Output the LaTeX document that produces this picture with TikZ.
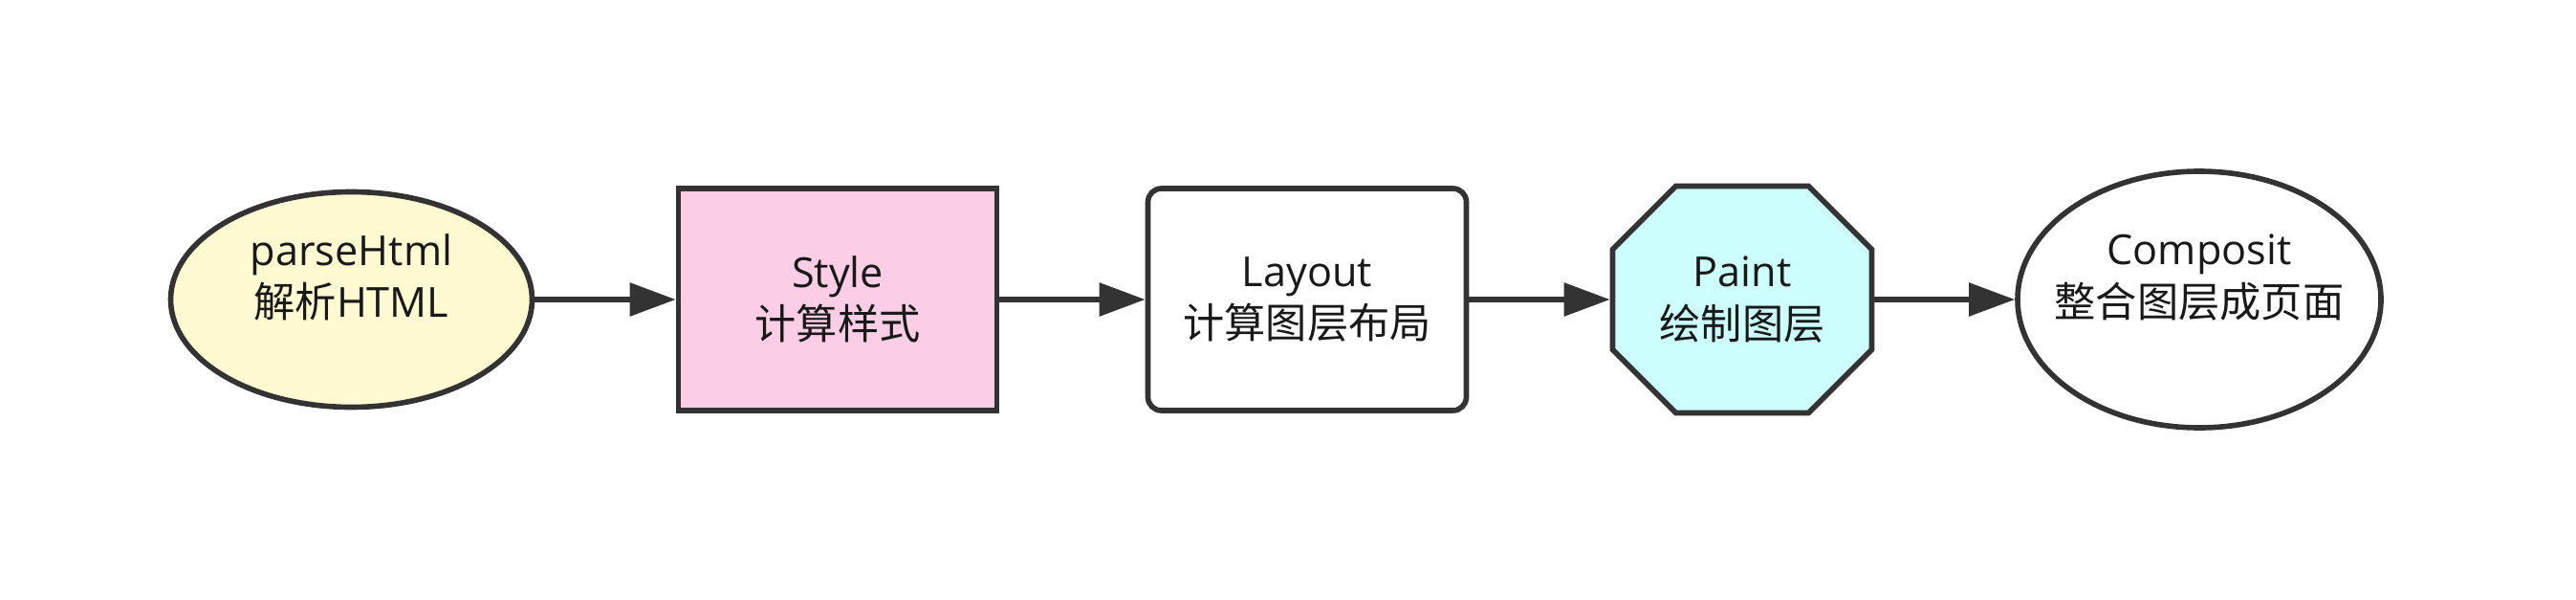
\documentclass[tikz,border=0pt]{standalone}
\usepackage{fontspec}
\setmainfont{Open Sans}
\newfontfamily\cjk{Noto Sans CJK SC}
\usepackage{xcolor}
\definecolor{flowline}{RGB}{51,51,51}
\definecolor{flowyellow}{RGB}{255,250,210}
\definecolor{flowpink}{RGB}{251,206,230}
\definecolor{flowcyan}{RGB}{206,255,255}
\usetikzlibrary{arrows.meta,positioning,shapes.geometric,calc,backgrounds}

\begin{document}
\begin{tikzpicture}[
    stage/.style={draw=flowline, line width=1.6pt, align=center, inner sep=0pt,
      font=\fontsize{12.3}{15.5}\selectfont, text=black!90},
    oval/.style={stage, ellipse, inner sep=-1cm, text depth=0.5cm},
    flow/.style={draw=flowline, line width=1.6pt, -{Triangle[length=0.48cm, width=0.34cm]}}
  ]
  \useasboundingbox (0,0) rectangle (26.94,6.26);

  % Render pipeline stages
  \node[oval, fill=flowyellow, minimum width=3.78cm, minimum height=2.25cm] (parse) at (3.675,3.13) {parseHtml\\{\cjk 解析}HTML};
  \node[stage, rectangle, fill=flowpink, minimum width=3.33cm, minimum height=2.32cm] (style) at (8.76,3.13) {Style\\{\cjk 计算样式}};
  \node[stage, rectangle, rounded corners=0.14cm, fill=white, minimum width=3.33cm, minimum height=2.32cm] (layout) at (13.67,3.13) {Layout\\{\cjk 计算图层布局}};
  \node[stage, rectangle, draw=none, minimum width=2.71cm, minimum height=2.37cm] (paint) at (18.22,3.13) {Paint\\{\cjk 绘制图层}};
  \node[oval, fill=white, minimum width=3.80cm, minimum height=2.68cm] (composit) at (23.00,3.13) {Composit\\{\cjk 整合图层成页面}};

  % octagon outline behind the Paint text
  \begin{scope}[on background layer]
    \draw[draw=flowline, fill=flowcyan, line width=1.6pt]
      ($(paint.north west)+(0.69,-0.028)$) -- ($(paint.north east)+(-0.69,-0.028)$)
      -- ($(paint.north east)+(-0.028,-0.69)$) -- ($(paint.south east)+(-0.028,0.69)$)
      -- ($(paint.south east)+(-0.69,0.028)$) -- ($(paint.south west)+(0.69,0.028)$)
      -- ($(paint.south west)+(0.028,0.69)$) -- ($(paint.north west)+(0.028,-0.69)$) -- cycle;
  \end{scope}

  % Arrows
  \draw[flow] (parse) -- (style);
  \draw[flow] (style) -- (layout);
  \draw[flow] (layout) -- (paint);
  \draw[flow] (paint) -- (composit);
\end{tikzpicture}
\end{document}
